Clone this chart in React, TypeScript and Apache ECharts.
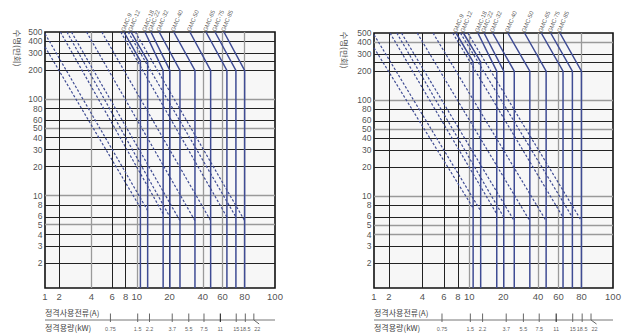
import React, { useEffect, useRef } from 'react';
import * as echarts from 'echarts';

// ---- printed (non-uniform) current axis, A ----
const X_TICKS = [1, 2, 4, 6, 8, 10, 20, 40, 60, 80, 100];
// calibration of that printed scale: fraction of the axis width at each tick
const X_TICK_POS = [0, 0.062, 0.202, 0.292, 0.351, 0.399, 0.541, 0.686, 0.772, 0.868, 1];

// ---- life axis (10^4 operations), log ----
const Y_TICKS = [500, 400, 300, 200, 100, 80, 60, 50, 40, 30, 20, 10, 8, 6, 5, 4, 3, 2];
const Y_EXTRA_LINES = [250];
const Y_MIN = 1.1;
const Y_MAX = 500;

// ---- contactors ----
const CONTACTORS = ['GMC-9', 'GMC-12', 'GMC-18', 'GMC-22', 'GMC-32', 'GMC-40', 'GMC-50', 'GMC-65', 'GMC-75', 'GMC-85'];
const RATED_X = [10.8, 12.6, 17.5, 20.2, 24.9, 34, 47, 63.5, 71.4, 80];
const SOLID_TOP_X = [7.7, 8.9, 11.9, 13.5, 16.1, 21.9, 30.6, 42.7, 51.4, 61.1];
const SOLID_TOP_LIFE = [500, 500, 500, 500, 500, 500, 500, 500, 500, 500];
const KNEE_LIFE = [250, 250, 200, 200, 200, 200, 200, 200, 200, 200];
const DASH_START_X = [1, 1, 2.05, 2.36, 2.6, 3.6, 4.9, 7.2, 8.4, 9.7];
const DASH_START_LIFE = [350, 480, 500, 500, 500, 500, 500, 500, 500, 500];
const DASH_END_LIFE = [7.5, 7, 6.5, 6, 5.5, 5.5, 5.5, 6, 6, 5.5];

// ---- rated capacity scale (kW) under the current axis ----
const KW_LABELS = ['0.75', '1.5', '2.2', '3.7', '5.5', '7.5', '11', '15', '18.5', '22'];
const KW_AT_CURRENT = [5.8, 10.2, 13.1, 21.2, 29.9, 41, 57.3, 71.7, 80.4, 85.6];
const KW_SLANT_END = 89; // the "22" tick bends towards its label

const TITLE_Y = '수명(만회)';
const TITLE_A = '정격사용전류(A)';
const TITLE_KW = '정격용량(kW)';

function xPos(v: number): number {
  if (v <= X_TICKS[0]) return X_TICK_POS[0];
  for (let i = 0; i < X_TICKS.length - 1; i++) {
    const a = X_TICKS[i];
    const b = X_TICKS[i + 1];
    if (v <= b) {
      const t = Math.log(v / a) / Math.log(b / a);
      return X_TICK_POS[i] + t * (X_TICK_POS[i + 1] - X_TICK_POS[i]);
    }
  }
  return 1;
}

const PANELS = [
  { left: 45, top: 32, width: 230, height: 256, titleX: 18, titleY: 48, lightH: [100, 50, 10, 5], lightV: [4, 10, 40, 60, 80] },
  { left: 374, top: 33, width: 239, height: 255, titleX: 345, titleY: 50, lightH: [400, 100, 50, 10, 5, 4], lightV: [10, 40, 60, 80] },
];

// small vertical nudges so that crowded tick labels do not collide
const Y_LABEL_NUDGE: Record<string, number> = { '60': -1.2, '6': -1, '5': 0.5, '4': 1 };

const BLUE = '#3f4c94';
const DARK = '#222';
const LIGHT = '#9a9a9a';
const NUM_FONT = '"Liberation Sans", Arial, sans-serif';
const KR_FONT = '"Noto Sans CJK KR", "Noto Sans", sans-serif';
const STRIP_TOP = 290;
const STRIP_H = 43;

function buildOption() {
  const grid: any[] = [];
  const xAxis: any[] = [];
  const yAxis: any[] = [];
  const series: any[] = [];
  const graphic: any[] = [];

  PANELS.forEach((p, pi) => {
    const mi = pi * 2;
    const si = pi * 2 + 1;
    grid.push({
      left: p.left, top: p.top, width: p.width, height: p.height,
      show: true, backgroundColor: '#f7f7f7', borderColor: '#111', borderWidth: 1.6,
    });
    grid.push({ left: p.left, top: STRIP_TOP, width: p.width, height: STRIP_H });
    xAxis.push({ type: 'value', gridIndex: mi, min: 0, max: 1, show: false });
    xAxis.push({ type: 'value', gridIndex: si, min: 0, max: 1, show: false });
    yAxis.push({ type: 'log', logBase: 10, gridIndex: mi, min: Y_MIN, max: Y_MAX, show: false });
    yAxis.push({ type: 'value', gridIndex: si, min: 0, max: STRIP_H, inverse: true, show: false });

    const base = { coordinateSystem: 'cartesian2d', xAxisIndex: mi, yAxisIndex: mi, silent: true };

    // horizontal grid lines
    const hVals = Y_TICKS.slice(1).concat(Y_EXTRA_LINES);
    series.push({
      ...base, type: 'lines', z: 2,
      data: hVals.map((v) => {
        const light = p.lightH.includes(v);
        return {
          coords: [[0, v], [1, v]],
          lineStyle: { color: light ? LIGHT : DARK, width: light ? 1.3 : 1, opacity: 1 },
        };
      }),
    });
    // vertical grid lines
    series.push({
      ...base, type: 'lines', z: 2,
      data: X_TICKS.slice(1, -1).map((v) => {
        const light = p.lightV.includes(v);
        return {
          coords: [[xPos(v), Y_MIN], [xPos(v), Y_MAX]],
          lineStyle: { color: light ? LIGHT : DARK, width: light ? 1.3 : 1, opacity: 1 },
        };
      }),
    });
    // dashed life curves
    series.push({
      ...base, type: 'lines', z: 4,
      data: CONTACTORS.map((_, i) => ({
        coords: [[xPos(DASH_START_X[i]), DASH_START_LIFE[i]], [xPos(RATED_X[i]), DASH_END_LIFE[i]]],
      })),
      lineStyle: { color: BLUE, width: 1.2, type: [2.5, 1.8], opacity: 1 },
    });
    // solid limit lines
    series.push({
      ...base, type: 'lines', polyline: true, z: 5,
      data: CONTACTORS.map((_, i) => ({
        coords: [
          [xPos(SOLID_TOP_X[i]), SOLID_TOP_LIFE[i]],
          [xPos(RATED_X[i]), KNEE_LIFE[i]],
          [xPos(RATED_X[i]), Y_MIN],
        ],
      })),
      lineStyle: { color: BLUE, width: 1.5, opacity: 1 },
    });
    // y tick labels
    series.push({
      ...base, type: 'scatter', symbolSize: 1, itemStyle: { color: 'transparent' }, z: 6,
      data: Y_TICKS.map((v) => {
        const n = String(v);
        const nudge = Y_LABEL_NUDGE[n];
        return nudge ? { name: n, value: [0, v], label: { offset: [0, nudge] } } : { name: n, value: [0, v] };
      }),
      label: {
        show: true, position: 'left', distance: 2, formatter: (d: any) => d.name,
        fontSize: 8.5, lineHeight: 7, fontFamily: NUM_FONT, color: '#222',
      },
    });
    // x tick labels
    series.push({
      ...base, type: 'scatter', symbolSize: 1, itemStyle: { color: 'transparent' }, z: 6,
      data: X_TICKS.map((v) => ({ name: String(v), value: [xPos(v), Y_MIN] })),
      label: {
        show: true, position: 'bottom', distance: 3, formatter: (d: any) => d.name,
        fontSize: 9.5, fontFamily: NUM_FONT, color: '#222',
      },
    });
    // contactor names
    series.push({
      ...base, type: 'scatter', symbolSize: 1, itemStyle: { color: 'transparent' }, z: 6,
      data: CONTACTORS.map((c, i) => ({ name: c, value: [xPos(SOLID_TOP_X[i]), SOLID_TOP_LIFE[i]] })),
      label: {
        show: true, position: 'top', distance: 3, offset: [-3, 0], rotate: 68,
        align: 'left', verticalAlign: 'middle', formatter: (d: any) => d.name,
        fontSize: 6, lineHeight: 5, fontFamily: NUM_FONT, color: '#333',
      },
    });

    // ---- strip below: kW scale ----
    const sbase = { coordinateSystem: 'cartesian2d', xAxisIndex: si, yAxisIndex: si, silent: true };
    const lineRow = 30;
    const tickTop = 23.5;
    const tickBottom = 32;
    series.push({
      ...sbase, type: 'lines', polyline: true, z: 3,
      data: [
        { coords: [[0, lineRow], [1.008, lineRow]], lineStyle: { color: '#777', width: 1, opacity: 1 } },
        ...KW_LABELS.map((k, i) => {
          const x = xPos(KW_AT_CURRENT[i]);
          const coords = i === KW_LABELS.length - 1
            ? [[x, tickTop], [x, lineRow], [xPos(KW_SLANT_END), tickBottom + 2]]
            : [[x, tickTop], [x, tickBottom]];
          return {
            coords,
            lineStyle: { color: k === '11' ? '#111' : '#666', width: 1, opacity: 1 },
          };
        }),
      ],
    });
    series.push({
      ...sbase, type: 'scatter', symbolSize: 1, itemStyle: { color: 'transparent' }, z: 6,
      data: KW_LABELS.map((k, i) => ({
        name: k,
        value: [xPos(KW_AT_CURRENT[i]), 38.5],
        label: i === KW_LABELS.length - 1 ? { offset: [3.5, 0] } : undefined,
      })),
      label: {
        show: true, position: 'inside', formatter: (d: any) => d.name,
        fontSize: 5.5, fontFamily: NUM_FONT, color: '#333',
      },
    });

    graphic.push({
      type: 'text', x: p.titleX, y: p.titleY, rotation: -Math.PI / 2, silent: true,
      style: { text: TITLE_Y, fill: '#555', fontSize: 8.5, fontFamily: KR_FONT, align: 'center', verticalAlign: 'middle' },
    });
    graphic.push({
      type: 'text', x: p.left, y: STRIP_TOP + 22, silent: true,
      style: { text: TITLE_A, fill: '#444', fontSize: 8, fontFamily: KR_FONT, align: 'left', verticalAlign: 'middle' },
    });
    graphic.push({
      type: 'text', x: p.left, y: STRIP_TOP + 37, silent: true,
      style: { text: TITLE_KW, fill: '#444', fontSize: 8, fontFamily: KR_FONT, align: 'left', verticalAlign: 'middle' },
    });
  });

  return { animation: false, backgroundColor: '#fff', grid, xAxis, yAxis, series, graphic };
}

export default function App() {
  const ref = useRef<HTMLDivElement>(null);
  useEffect(() => {
    if (!ref.current) return;
    const chart = echarts.init(ref.current, undefined, { renderer: 'svg' });
    chart.setOption(buildOption() as any);
    return () => chart.dispose();
  }, []);
  return <div ref={ref} style={{ position: 'absolute', left: 0, top: 0, width: 626, height: 333 }} />;
}
